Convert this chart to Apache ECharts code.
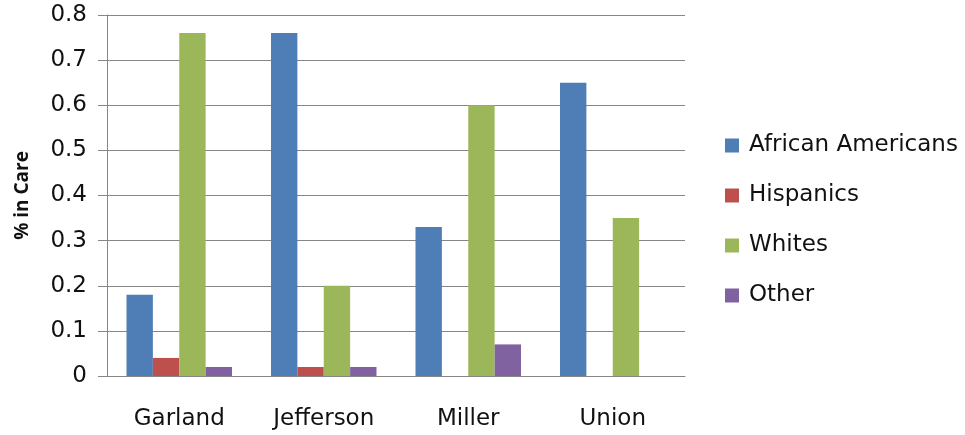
<!DOCTYPE html>
<html><head><meta charset="utf-8">
<script src="https://cdn.jsdelivr.net/npm/echarts@6/dist/echarts.min.js"></script>
<style>html,body{margin:0;padding:0;background:#fff}#c{width:965px;height:435px}</style>
</head><body><div id="c"></div>
<script>
var categories = ['Garland', 'Jefferson', 'Miller', 'Union'];
var seriesNames = ['African Americans', 'Hispanics', 'Whites', 'Other'];
var africanAmericans = [0.18, 0.76, 0.33, 0.65];
var hispanics = [0.04, 0.02, 0, 0];
var whites = [0.76, 0.2, 0.6, 0.35];
var other = [0.02, 0.02, 0.07, 0];
var colors = ['#4F7DB5', '#BD504D', '#9BB75A', '#8062A0'];
var values = [africanAmericans, hispanics, whites, other];

var font = 'DejaVu Sans';
var chart = echarts.init(document.getElementById('c'), null, {renderer: 'canvas'});
chart.setOption({
  animation: false,
  color: colors,
  grid: {left: 107, right: 280, top: 15, bottom: 59, containLabel: false},
  legend: {
    orient: 'vertical', left: 725, top: 134, padding: 0,
    itemWidth: 14, itemHeight: 14, itemGap: 27,
    icon: 'rect',
    textStyle: {fontFamily: font, fontSize: 23, color: '#111', lineHeight: 22, padding: [0, 0, 0, 5]},
    data: seriesNames
  },
  xAxis: {
    type: 'category', data: categories,
    axisLine: {lineStyle: {color: '#868686', width: 1}},
    axisTick: {show: false},
    axisLabel: {fontFamily: font, fontSize: 23, color: '#111', margin: 32}
  },
  yAxis: {
    type: 'value', min: 0, max: 0.8, interval: 0.1,
    name: '% in Care', nameLocation: 'middle', nameGap: 75,
    nameTextStyle: {fontFamily: 'Open Sans', fontSize: 19, fontWeight: 'bold', color: '#111'},
    axisLine: {show: true, lineStyle: {color: '#868686', width: 1}},
    axisTick: {show: true, length: 9, lineStyle: {color: '#868686'}},
    axisLabel: {fontFamily: font, fontSize: 23, color: '#111', margin: 20,
      formatter: function (v) { return v === 0 ? '0' : v.toFixed(1); }},
    splitLine: {lineStyle: {color: '#868686', width: 1}}
  },
  series: seriesNames.map(function (n, i) {
    return {name: n, type: 'bar', data: values[i], barGap: '0%', barCategoryGap: '27%'};
  })
});
</script></body></html>
